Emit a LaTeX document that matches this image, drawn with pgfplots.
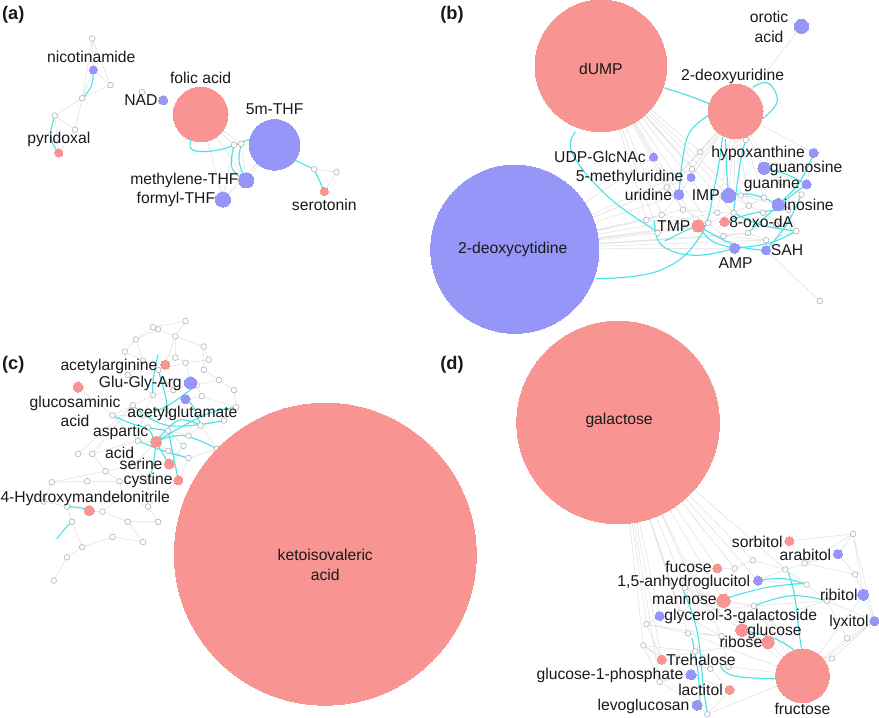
\documentclass[border=0pt]{standalone}
\usepackage{pgfplots}
\pgfplotsset{compat=1.18}
\usepackage{pgfplotstable}
\usepackage{fontspec}
\setmainfont{Liberation Sans}
\definecolor{nodered}{RGB}{248,148,146}
\definecolor{nodeblue}{RGB}{150,150,248}
\definecolor{edgecyan}{RGB}{72,226,232}
\definecolor{edgegray}{RGB}{226,226,226}
\definecolor{nodegray}{RGB}{180,180,180}
\definecolor{txt}{RGB}{25,25,25}

\pgfplotstableread{
x y r
207 123 27
67 161 4
329 199 4
602 75 65
735 120 27
698 233 6
724 229 4.5
330 557 149
172 370 4.5
86 392 5
163 446 5.5
176 468 5
185 484 4.5
97 514 5
619 427 100
801 677 26.5
788 544 4.5
717 571 4.5
723 603 6.5
741 632 6
767 644 6
662 661 4.5
729 691 4.5
}\rednodes

\pgfplotstableread{
x y r
101 79 4
170 109 4.5
280 153 25
252 188 7.5
229 207 7.5
800 36 7
517 256 83
654 165 4
812 161 4.5
763 176 6
691 185 4
805 192 4.5
679 202 5
728 203 7
777 212 6
734 255 5
765 257 4.5
197 388 6
192 404 4.5
836 557 4.5
757 583 4.5
861 597 5.5
660 618 4.5
872 623 4.5
691 676 5
697 706 5
}\bluenodes

\pgfplotstableread{
x y
100 48
118 94
90 107
63 124
83 138
149 101
240 153
247 152
319 177
341 180
692 177
667 195
662 222
683 217
647 227
658 240
708 230
717 220
733 220
740 203
748 213
763 205
762 220
747 240
765 247
795 238
800 202
787 217
723 243
818 307
745 148
700 160
775 232
780 190
160 333
192 327
165 335
143 345
182 342
210 352
132 357
182 363
192 368
150 366
165 375
135 380
210 375
203 390
180 395
160 400
140 410
120 420
150 420
175 420
208 401
242 412
230 425
207 430
195 440
175 435
155 432
145 445
190 450
223 453
175 455
195 462
100 458
86 458
113 475
140 470
155 485
127 485
95 485
60 486
52 505
75 510
110 515
130 500
155 510
135 525
165 525
80 525
150 545
120 540
90 550
75 560
62 583
225 385
240 395
215 365
851 537
752 563
734 571
784 572
803 566
853 577
805 587
825 603
753 608
685 590
647 626
688 635
721 638
644 647
695 653
728 668
710 670
660 683
707 715
700 600
770 620
680 615
845 640
830 660
}\graynodes

\pgfplotsset{
  cy/.style={no markers, color=edgecyan, line width=1.1pt, smooth, tension=0.7},
}
\tikzset{
  lab/.style={font=\fontsize{15.5}{16}\selectfont, text=txt, inner sep=0.5pt},
  pan/.style={font=\fontsize{18}{19}\selectfont\bfseries, text=txt, inner sep=0pt},
}

\begin{document}
\begin{tikzpicture}
\begin{axis}[
  x=1pt, y=1pt,
  xmin=0, xmax=879, ymin=0, ymax=723,
  y dir=reverse,
  hide axis, clip=false,
  unbounded coords=jump,
  set layers,
]
% ---------------- gray edges ----------------
\addplot[no markers, color=edgegray, line width=0.6pt] coordinates {
(100,48)(101,79) (nan,nan) (100,48)(118,94) (nan,nan) (101,79)(118,94) (nan,nan) (101,79)(90,107) (nan,nan)
(118,94)(90,107) (nan,nan) (90,107)(63,124) (nan,nan) (90,107)(83,138) (nan,nan) (63,124)(83,138) (nan,nan)
(63,124)(67,161) (nan,nan) (83,138)(67,161) (nan,nan) (100,48)(90,107) (nan,nan) (149,101)(170,109) (nan,nan)
(207,123)(240,153) (nan,nan) (207,123)(247,152) (nan,nan) (207,123)(252,188) (nan,nan) (207,123)(229,207) (nan,nan)
(240,153)(280,153) (nan,nan) (247,152)(252,188) (nan,nan) (240,153)(229,207) (nan,nan) (280,153)(252,188) (nan,nan)
(280,153)(229,207) (nan,nan) (319,177)(341,180) (nan,nan) (341,180)(329,199) (nan,nan) (319,177)(329,199) (nan,nan)
(602,75)(667,195) (nan,nan) (602,75)(662,222) (nan,nan) (602,75)(647,227) (nan,nan) (602,75)(683,217) (nan,nan)
(602,75)(692,177) (nan,nan) (602,75)(700,160) (nan,nan) (602,75)(658,240) (nan,nan) (602,75)(708,230) (nan,nan)
(602,75)(654,165) (nan,nan) (602,75)(679,202) (nan,nan) (602,75)(698,233) (nan,nan) (602,75)(728,203) (nan,nan)
(602,75)(717,220) (nan,nan) (602,75)(733,220) (nan,nan) (602,75)(735,120) (nan,nan) (602,75)(748,213) (nan,nan)
(517,256)(647,227) (nan,nan) (517,256)(658,240) (nan,nan) (517,256)(662,222) (nan,nan) (517,256)(698,233) (nan,nan)
(517,256)(667,195) (nan,nan) (517,256)(654,165) (nan,nan) (517,256)(679,202) (nan,nan) (517,256)(708,230) (nan,nan)
(517,256)(734,255) (nan,nan) (517,256)(723,243) (nan,nan) (517,256)(691,185) (nan,nan) (517,256)(683,217) (nan,nan)
(517,256)(692,177) (nan,nan) (517,256)(747,240) (nan,nan) (517,256)(765,247) (nan,nan) (517,256)(717,220) (nan,nan)
(735,120)(692,177) (nan,nan) (735,120)(700,160) (nan,nan) (735,120)(717,220) (nan,nan) (735,120)(733,220) (nan,nan)
(735,120)(740,203) (nan,nan) (735,120)(748,213) (nan,nan) (735,120)(763,205) (nan,nan) (735,120)(728,203) (nan,nan)
(735,120)(763,176) (nan,nan) (735,120)(745,148) (nan,nan) (735,120)(780,190) (nan,nan) (735,120)(812,161) (nan,nan)
(735,120)(691,185) (nan,nan) (735,120)(679,202) (nan,nan) (735,120)(667,195) (nan,nan) (800,36)(735,120) (nan,nan)
(667,195)(683,217) (nan,nan) (683,217)(708,230) (nan,nan) (708,230)(723,243) (nan,nan) (717,220)(733,220) (nan,nan)
(733,220)(748,213) (nan,nan) (748,213)(763,205) (nan,nan) (763,205)(787,217) (nan,nan) (787,217)(795,238) (nan,nan)
(795,238)(765,247) (nan,nan) (765,247)(747,240) (nan,nan) (747,240)(723,243) (nan,nan) (740,203)(763,205) (nan,nan)
(800,202)(787,217) (nan,nan) (762,220)(775,232) (nan,nan) (775,232)(795,238) (nan,nan) (658,240)(698,233) (nan,nan)
(647,227)(662,222) (nan,nan) (662,222)(679,202) (nan,nan) (692,177)(691,185) (nan,nan) (765,257)(818,307) (nan,nan)
(734,255)(765,257) (nan,nan) (698,233)(734,255) (nan,nan) (728,203)(762,220) (nan,nan) (777,212)(800,202) (nan,nan)
(805,192)(812,161) (nan,nan) (763,176)(805,192) (nan,nan) (780,190)(800,202) (nan,nan) (780,190)(763,176) (nan,nan)
(683,217)(717,220) (nan,nan) (708,230)(733,220) (nan,nan) (662,222)(708,230) (nan,nan) (667,195)(700,160) (nan,nan)
(647,227)(698,233) (nan,nan) (723,243)(765,247) (nan,nan) (740,203)(777,212) (nan,nan) (748,213)(795,238) (nan,nan)
(160,333)(192,327) (nan,nan) (192,327)(182,342) (nan,nan) (160,333)(143,345) (nan,nan) (143,345)(165,335) (nan,nan)
(165,335)(182,342) (nan,nan) (182,342)(210,352) (nan,nan) (143,345)(132,357) (nan,nan) (132,357)(150,366) (nan,nan)
(143,345)(150,366) (nan,nan) (150,366)(165,375) (nan,nan) (165,375)(192,368) (nan,nan) (182,342)(182,363) (nan,nan)
(182,363)(192,368) (nan,nan) (192,368)(215,365) (nan,nan) (210,352)(215,365) (nan,nan) (165,375)(172,370) (nan,nan)
(135,380)(150,366) (nan,nan) (160,333)(165,335) (nan,nan) (182,363)(165,375) (nan,nan)
(135,380)(160,400) (nan,nan) (165,375)(180,395) (nan,nan) (180,395)(197,388) (nan,nan) (192,368)(197,388) (nan,nan)
(203,390)(225,385) (nan,nan) (225,385)(240,395) (nan,nan) (203,390)(208,401) (nan,nan) (208,401)(242,412) (nan,nan)
(240,395)(242,412) (nan,nan) (180,395)(160,400) (nan,nan) (160,400)(140,410) (nan,nan) (140,410)(120,420) (nan,nan)
(120,420)(150,420) (nan,nan) (150,420)(175,420) (nan,nan) (175,420)(192,404) (nan,nan) (192,404)(208,401) (nan,nan)
(175,420)(207,430) (nan,nan) (207,430)(230,425) (nan,nan) (230,425)(242,412) (nan,nan) (207,430)(195,440) (nan,nan)
(195,440)(175,435) (nan,nan) (175,435)(155,432) (nan,nan) (155,432)(145,445) (nan,nan) (145,445)(163,446) (nan,nan)
(163,446)(175,455) (nan,nan) (175,455)(195,462) (nan,nan) (195,462)(223,453) (nan,nan) (223,453)(207,430) (nan,nan)
(190,450)(175,435) (nan,nan) (190,450)(176,468) (nan,nan) (195,462)(185,484) (nan,nan) (145,445)(100,458) (nan,nan)
(100,458)(86,458) (nan,nan) (100,458)(113,475) (nan,nan) (113,475)(140,470) (nan,nan) (140,470)(163,446) (nan,nan)
(140,470)(155,485) (nan,nan) (155,485)(127,485) (nan,nan) (127,485)(113,475) (nan,nan) (127,485)(95,485) (nan,nan)
(95,485)(60,486) (nan,nan) (60,486)(52,505) (nan,nan) (52,505)(75,510) (nan,nan) (75,510)(97,514) (nan,nan)
(97,514)(110,515) (nan,nan) (110,515)(130,500) (nan,nan) (130,500)(155,510) (nan,nan) (155,510)(165,525) (nan,nan)
(165,525)(135,525) (nan,nan) (135,525)(110,515) (nan,nan) (135,525)(150,545) (nan,nan) (150,545)(120,540) (nan,nan)
(120,540)(90,550) (nan,nan) (90,550)(80,525) (nan,nan) (80,525)(75,510) (nan,nan) (90,550)(75,560) (nan,nan)
(75,560)(62,583) (nan,nan) (155,485)(155,510) (nan,nan) (130,500)(127,485) (nan,nan) (185,484)(155,510) (nan,nan)
(86,458)(140,410) (nan,nan) (60,486)(113,475) (nan,nan) (100,458)(140,410) (nan,nan) (150,420)(145,445) (nan,nan)
(120,420)(145,445) (nan,nan) (175,420)(163,446) (nan,nan) (172,370)(182,342) (nan,nan) (132,357)(135,380) (nan,nan)
(210,352)(210,375) (nan,nan) (210,375)(225,385) (nan,nan) (160,400)(150,420) (nan,nan) (86,392)(120,420) (nan,nan)
(619,427)(685,590) (nan,nan) (619,427)(647,626) (nan,nan) (619,427)(644,647) (nan,nan) (619,427)(660,618) (nan,nan)
(619,427)(662,661) (nan,nan) (619,427)(723,603) (nan,nan) (619,427)(717,571) (nan,nan) (619,427)(734,571) (nan,nan)
(619,427)(752,563) (nan,nan) (619,427)(700,600) (nan,nan) (619,427)(680,615) (nan,nan) (619,427)(688,635) (nan,nan)
(619,427)(660,683) (nan,nan) (619,427)(757,583) (nan,nan) (619,427)(721,638) (nan,nan) (619,427)(784,572) (nan,nan)
(851,537)(836,557) (nan,nan) (851,537)(788,544) (nan,nan) (851,537)(861,597) (nan,nan) (851,537)(872,623) (nan,nan)
(853,577)(861,597) (nan,nan) (853,577)(872,623) (nan,nan) (803,566)(853,577) (nan,nan) (784,572)(805,587) (nan,nan)
(805,587)(825,603) (nan,nan) (825,603)(861,597) (nan,nan) (825,603)(872,623) (nan,nan) (872,623)(801,677) (nan,nan)
(861,597)(801,677) (nan,nan) (845,640)(801,677) (nan,nan) (830,660)(872,623) (nan,nan) (753,608)(825,603) (nan,nan)
(753,608)(741,632) (nan,nan) (741,632)(767,644) (nan,nan) (767,644)(801,677) (nan,nan) (741,632)(801,677) (nan,nan)
(721,638)(767,644) (nan,nan) (688,635)(721,638) (nan,nan) (647,626)(688,635) (nan,nan) (644,647)(662,661) (nan,nan)
(662,661)(695,653) (nan,nan) (695,653)(728,668) (nan,nan) (728,668)(801,677) (nan,nan) (710,670)(729,691) (nan,nan)
(691,676)(729,691) (nan,nan) (697,706)(707,715) (nan,nan) (707,715)(729,691) (nan,nan) (707,715)(801,677) (nan,nan)
(660,683)(691,676) (nan,nan) (660,618)(647,626) (nan,nan) (685,590)(723,603) (nan,nan) (723,603)(753,608) (nan,nan)
(717,571)(734,571) (nan,nan) (734,571)(752,563) (nan,nan) (752,563)(784,572) (nan,nan) (757,583)(784,572) (nan,nan)
(757,583)(805,587) (nan,nan) (700,600)(741,632) (nan,nan) (680,615)(721,638) (nan,nan) (644,647)(695,653) (nan,nan)
(688,635)(710,670) (nan,nan) (721,638)(728,668) (nan,nan) (700,600)(753,608) (nan,nan) (734,571)(723,603) (nan,nan)
(788,544)(803,566) (nan,nan) (836,557)(853,577) (nan,nan) (836,557)(803,566) (nan,nan) (660,683)(697,706) (nan,nan)
(644,647)(660,683) (nan,nan) (647,626)(662,661) (nan,nan) (685,590)(700,600) (nan,nan) (680,615)(700,600) (nan,nan)
(770,620)(825,603) (nan,nan) (770,620)(741,632) (nan,nan) (770,620)(801,677) (nan,nan) (845,640)(872,623) (nan,nan)
(830,660)(801,677) (nan,nan) (845,640)(825,603) (nan,nan) (851,537)(803,566) (nan,nan) (784,572)(836,557) (nan,nan)
(753,608)(801,677) (nan,nan) (688,635)(801,677) (nan,nan) (695,653)(767,644) (nan,nan) (647,626)(721,638) (nan,nan)
(685,590)(757,583) (nan,nan) (680,615)(753,608) (nan,nan) (662,661)(710,670) (nan,nan) (644,647)(691,676) (nan,nan)
};
% ---------------- cyan edges ----------------
\addplot[cy] coordinates {(101,79)(99,95)(90,107)};
\addplot[cy] coordinates {(63,124)(59,145)(67,161)};
\addplot[cy] coordinates {(198,147)(199,158)(225,158)(256,147)};
\addplot[cy] coordinates {(252,188)(238,176)(240,153)};
\addplot[cy] coordinates {(252,188)(245,170)(247,152)};
\addplot[cy] coordinates {(300,168)(310,173)(319,177)};
\addplot[cy] coordinates {(319,177)(325,190)(329,199)};
\addplot[cy] coordinates {(665,97)(690,105)(710,113)};
\addplot[cy] coordinates {(752,96)(767,92)(776,110)(762,127)};
\addplot[cy] coordinates {(577,140)(574,162)(610,205)(660,240)};
\addplot[cy] coordinates {(597,285)(660,277)(700,243)(715,190)(722,145)};
\addplot[cy] coordinates {(708,124)(690,140)(683,165)(679,202)};
\addplot[cy] coordinates {(725,147)(726,175)(728,203)};
\addplot[cy] coordinates {(747,143)(740,168)(733,220)};
\addplot[cy] coordinates {(763,176)(785,182)(805,192)};
\addplot[cy] coordinates {(777,212)(798,190)(812,161)};
\addplot[cy] coordinates {(728,203)(752,202)(777,212)};
\addplot[cy] coordinates {(734,255)(768,250)(795,238)};
\addplot[cy] coordinates {(765,257)(785,232)(800,202)};
\addplot[cy] coordinates {(698,233)(712,248)(734,255)};
\addplot[cy] coordinates {(698,233)(735,252)(765,257)};
\addplot[cy] coordinates {(724,229)(755,220)(787,217)};
\addplot[cy] coordinates {(747,240)(775,215)(805,192)};
\addplot[cy] coordinates {(665,248)(685,238)(698,233)};
\addplot[cy] coordinates {(655,228)(662,252)(695,262)(734,255)};
\addplot[cy] coordinates {(733,220)(760,232)(795,238)};
\addplot[cy] coordinates {(163,446)(190,440)(223,453)};
\addplot[cy] coordinates {(163,446)(185,425)(207,430)};
\addplot[cy] coordinates {(150,420)(175,410)(203,390)};
\addplot[cy] coordinates {(145,445)(170,455)(195,462)};
\addplot[cy] coordinates {(155,432)(168,455)(176,468)};
\addplot[cy] coordinates {(175,435)(180,460)(185,484)};
\addplot[cy] coordinates {(140,410)(175,430)(230,425)};
\addplot[cy] coordinates {(163,446)(210,420)(242,412)};
\addplot[cy] coordinates {(165,360)(160,385)(160,400)};
\addplot[cy] coordinates {(165,375)(172,400)(175,420)};
\addplot[cy] coordinates {(120,420)(145,430)(175,435)};
\addplot[cy] coordinates {(163,446)(160,470)(155,485)};
\addplot[cy] coordinates {(75,510)(88,511)(97,514)};
\addplot[cy] coordinates {(80,525)(72,533)(65,542)};
\addplot[cy] coordinates {(192,404)(200,412)(207,430)};
\addplot[cy] coordinates {(223,453)(240,445)(258,455)};
\addplot[cy] coordinates {(757,583)(782,581)(805,587)};
\addplot[cy] coordinates {(727,600)(765,590)(800,586)};
\addplot[cy] coordinates {(753,608)(790,598)(825,603)};
\addplot[cy] coordinates {(787,575)(793,597)(798,637)(800,650)};
\addplot[cy] coordinates {(683,592)(697,633)(703,687)(707,713)};
\addplot[cy] coordinates {(692,640)(698,675)(700,707)};
\addplot[cy] coordinates {(775,680)(733,677)(720,667)};
\addplot[cy] coordinates {(741,632)(773,640)(793,652)};
% ---------------- gray (unlabelled) nodes ----------------
\addplot[only marks, mark=*, mark size=2.8pt, mark options={fill=white, draw=nodegray, line width=0.6pt}] table[x=x,y=y] {\graynodes};
% ---------------- coloured nodes ----------------
\addplot[scatter, only marks, mark=*, color=nodered,
  mark options={draw=nodered, fill=nodered, line width=0pt},
  scatter/use mapped color={draw=nodered, fill=nodered},
  visualization depends on={\thisrow{r} \as \rad},
  scatter/@pre marker code/.append style={/tikz/mark size=\rad}]
  table[x=x,y=y] {\rednodes};
\addplot[scatter, only marks, mark=*, color=nodeblue,
  mark options={draw=nodeblue, fill=nodeblue, line width=0pt},
  scatter/use mapped color={draw=nodeblue, fill=nodeblue},
  visualization depends on={\thisrow{r} \as \rad},
  scatter/@pre marker code/.append style={/tikz/mark size=\rad}]
  table[x=x,y=y] {\bluenodes};
% ---------------- labels ----------------
\begin{pgfonlayer}{axis foreground}
\node[pan] at (axis cs:22,25) {(a)};
\node[pan] at (axis cs:455,25) {(b)};
\node[pan] at (axis cs:22,370) {(c)};
\node[pan] at (axis cs:455,370) {(d)};
% (a)
\node[lab] at (axis cs:99,66) {nicotinamide};
\node[lab] at (axis cs:207,87) {folic acid};
\node[lab, anchor=east] at (axis cs:165,109) {NAD};
\node[lab] at (axis cs:280,118) {5m-THF};
\node[lab] at (axis cs:67,148) {pyridoxal};
\node[lab, anchor=east] at (axis cs:245,188) {methylene-THF};
\node[lab, anchor=east] at (axis cs:222,207) {formyl-THF};
\node[lab] at (axis cs:329,212) {serotonin};
% (b)
\node[lab] at (axis cs:602,78) {dUMP};
\node[lab] at (axis cs:732,85) {2-deoxyuridine};
\node[lab] at (axis cs:768,27) {orotic};
\node[lab] at (axis cs:768,46) {acid};
\node[lab, anchor=east] at (axis cs:647,165) {UDP-GlcNAc};
\node[lab, anchor=east] at (axis cs:804,161) {hypoxanthine};
\node[lab, anchor=west] at (axis cs:768,176) {guanosine};
\node[lab, anchor=east] at (axis cs:684,185) {5-methyluridine};
\node[lab, anchor=east] at (axis cs:799,192) {guanine};
\node[lab, anchor=east] at (axis cs:673,202) {uridine};
\node[lab, anchor=east] at (axis cs:720,203) {IMP};
\node[lab, anchor=west] at (axis cs:782,212) {inosine};
\node[lab, anchor=west] at (axis cs:728,229) {8-oxo-dA};
\node[lab, anchor=east] at (axis cs:691,233) {TMP};
\node[lab] at (axis cs:735,270) {AMP};
\node[lab, anchor=west] at (axis cs:769,257) {SAH};
\node[lab] at (axis cs:515,256) {2-deoxycytidine};
% (c)
\node[lab, anchor=east] at (axis cs:165,372) {acetylarginine};
\node[lab, anchor=east] at (axis cs:189,388) {Glu-Gly-Arg};
\node[lab] at (axis cs:83,408) {glucosaminic};
\node[lab] at (axis cs:83,425) {acid};
\node[lab] at (axis cs:189,418) {acetylglutamate};
\node[lab] at (axis cs:128,437) {aspartic};
\node[lab] at (axis cs:127,457) {acid};
\node[lab, anchor=east] at (axis cs:170,468) {serine};
\node[lab, anchor=east] at (axis cs:180,484) {cystine};
\node[lab] at (axis cs:93,502) {4-Hydroxymandelonitrile};
\node[lab] at (axis cs:330,558) {ketoisovaleric};
\node[lab] at (axis cs:330,577) {acid};
% (d)
\node[lab] at (axis cs:620,425) {galactose};
\node[lab, anchor=east] at (axis cs:782,545) {sorbitol};
\node[lab, anchor=east] at (axis cs:830,558) {arabitol};
\node[lab, anchor=east] at (axis cs:712,570) {fucose};
\node[lab, anchor=east] at (axis cs:750,585) {1,5-anhydroglucitol};
\node[lab, anchor=east] at (axis cs:856,597) {ribitol};
\node[lab, anchor=east] at (axis cs:717,603) {mannose};
\node[lab, anchor=west] at (axis cs:664,618) {glycerol-3-galactoside};
\node[lab, anchor=east] at (axis cs:867,624) {lyxitol};
\node[lab, anchor=west] at (axis cs:746,633) {glucose};
\node[lab, anchor=east] at (axis cs:762,644) {ribose};
\node[lab, anchor=west] at (axis cs:666,661) {Trehalose};
\node[lab, anchor=east] at (axis cs:684,677) {glucose-1-phosphate};
\node[lab, anchor=east] at (axis cs:723,691) {lactitol};
\node[lab, anchor=east] at (axis cs:690,707) {levoglucosan};
\node[lab] at (axis cs:801,710) {fructose};
\end{pgfonlayer}
\end{axis}
\end{tikzpicture}
\end{document}
